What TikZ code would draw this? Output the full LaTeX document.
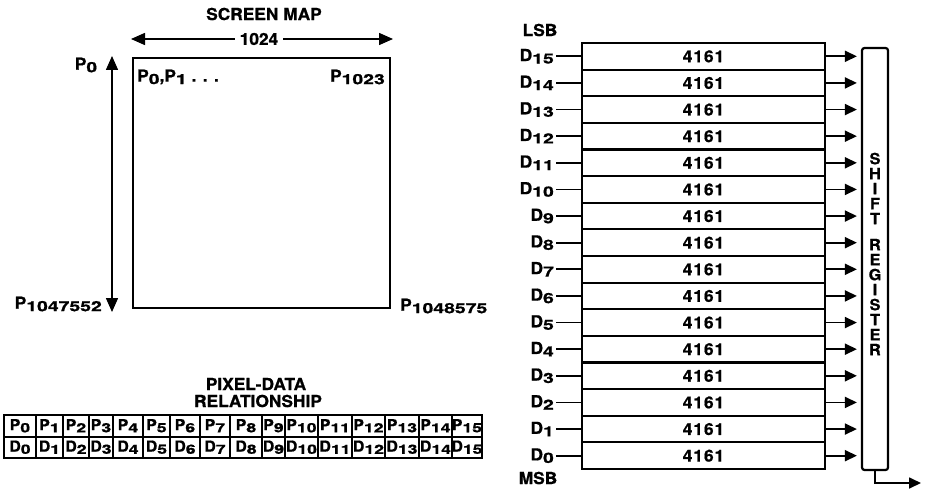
\documentclass[tikz,border=0pt]{standalone}
\usepackage{fontspec}
\setmainfont{TeX Gyre Heros}[FakeStretch=1.05, BoldFeatures={FakeBold=0.8}]
\usepackage{graphicx}
\usetikzlibrary{arrows.meta}
\newcommand\sbx[1]{\raisebox{-0.15em}{\scalebox{1.12}[0.85]{#1}}}
\tikzset{
  big/.style={font=\fontsize{16.5}{16.5}\selectfont\bfseries, inner sep=0pt},
  chip/.style={draw, line width=2.2pt, minimum width=243pt, minimum height=26.625pt, inner sep=0pt,
    font=\fontsize{16.5}{16.5}\selectfont\bfseries\addfontfeature{LetterSpace=6}},
  dlab/.style={big, anchor=east},
  cell/.style={draw, line width=2pt, minimum height=21.5pt, inner sep=0pt,
    font=\fontsize{15}{15}\selectfont\bfseries},
  lead/.style={line width=1.7pt},
  arr/.style={line width=1.7pt, -{Triangle[length=12pt,width=11pt]}},
  darr/.style={line width=1.5pt, {Triangle[length=14pt,width=12pt]}-{Triangle[length=14pt,width=12pt]}},
  sreg/.style={draw, line width=2.2pt, rounded corners=2.5pt, minimum width=26pt, minimum height=422pt, inner sep=0pt}
}
\begin{document}
\begin{tikzpicture}[x=1pt,y=-1pt]
\useasboundingbox (0,0) rectangle (925,492);

% ---------- screen map ----------
\node[big] (title) at (264,14) {SCREEN MAP};
\node[draw, line width=2.2pt, minimum width=257pt, minimum height=250pt, inner sep=0pt] (screen) at (261.5,183) {};
\node[big, fill=white, inner xsep=5pt] (n1024) at (259,39) {1024};
\coordinate (wl) at (131,39);
\coordinate (wr) at (393,39);
\draw[line width=1.5pt, -{Triangle[length=14pt,width=12pt]}] (n1024.west) -- (wl);
\draw[line width=1.5pt, -{Triangle[length=14pt,width=12pt]}] (n1024.east) -- (wr);
\coordinate (vt) at (112,56);
\coordinate (vb) at (112,312);
\draw[darr] (vt) -- (vb);
\node[big] (p0lab) at (86,65) {P\sbx{0}};
\node[big, anchor=west] (p01) at (137,77) {P\sbx{0},P\sbx{1} . . .};
\node[big, anchor=east] (p1023) at (385,77) {P\sbx{1023}};
\node[big, anchor=east] (pbl) at (102,304) {P\sbx{1047552}};
\node[big, anchor=west] (pbr) at (400,306) {P\sbx{1048575}};

% ---------- pixel-data relationship ----------
\node[big] (pdt1) at (256,384) {PIXEL-DATA};
\node[big] (pdt2) at (258,401) {RELATIONSHIP};
\foreach \k/\l/\r [evaluate=\l as \cx using (\l+\r)/2, evaluate=\l as \w using \r-\l] in
  {0/4/36, 1/36/63, 2/63/89, 3/89/113, 4/113/143, 5/143/170, 6/170/200, 7/200/230,
   8/230/262, 9/262/285, 10/285/318, 11/318/352, 12/352/385, 13/385/419, 14/419/452, 15/452/482}{
  \node[cell, minimum width=\w pt] (p\k) at (\cx,425.75) {\makebox[\w pt]{P\sbx{\k}}};
  \node[cell, minimum width=\w pt] (d\k) at (\cx,447.25) {\makebox[\w pt]{D\sbx{\k}}};
}

% ---------- memory / shift register ----------
\node[big] (lsb) at (540,30) {LSB};
\node[big] (msb) at (538,478) {MSB};
\node[sreg] (sr) at (875,259) {};
\node[font=\fontsize{15.5}{15}\selectfont\bfseries, align=center, inner sep=0pt] (srt) at (875,254)
  {S\\H\\I\\F\\T\\[11pt]R\\E\\G\\I\\S\\T\\E\\R};
\foreach \i [evaluate=\i as \yc using 43+26.625*(15.5-\i)] in {0,...,15}{
  \node[chip] (c\i) at (703.5,\yc) {4161};
  \node[dlab] (dl\i) at (554,\yc) {D\sbx{\i}};
  \draw[lead] (dl\i.east |- c\i.west) ++(2pt,0) -- (c\i.west);
  \draw[arr, shorten >=4pt] (c\i.east) -- (c\i.east -| sr.west);
}
\coordinate (out) at (921,483);
\draw[arr] (sr.south) |- (out);
\end{tikzpicture}
\end{document}
